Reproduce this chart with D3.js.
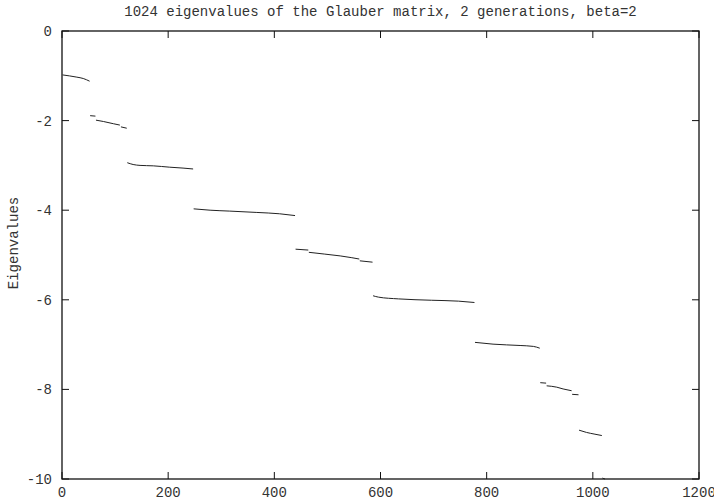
<!DOCTYPE html>
<html>
<head>
<meta charset="utf-8">
<script src="https://cdn.jsdelivr.net/npm/d3@7"></script>
<style>
  body { margin: 0; background: #fff; }
  svg text { font-family: "Liberation Mono", "DejaVu Sans Mono", monospace; fill: #333; }
</style>
</head>
<body>
<div id="chart"></div>
<script>
// plateaus of the sorted eigenvalue curve, each a list of [index, eigenvalue]
var level1 = [[1, -0.98], [28, -1.03], [40, -1.06], [52, -1.12]];
var level2a = [[53, -1.89], [63, -1.90]];
var level2b = [[64, -1.99], [78, -2.02], [97, -2.07], [109, -2.10]];
var level2c = [[111, -2.14], [122, -2.17]];
var level3 = [[123, -2.94], [134, -2.98], [147, -3.00], [172, -3.01], [203, -3.04], [228, -3.06], [247, -3.08]];
var level4 = [[248, -3.97], [279, -4.00], [316, -4.02], [367, -4.05], [410, -4.08], [439, -4.12]];
var level5a = [[440, -4.87], [464, -4.89]];
var level5b = [[465, -4.94], [495, -4.98], [524, -5.02], [546, -5.06], [560, -5.09]];
var level5c = [[561, -5.13], [585, -5.16]];
var level6 = [[586, -5.91], [596, -5.94], [634, -5.98], [696, -6.01], [747, -6.03], [777, -6.06]];
var level7 = [[778, -6.95], [812, -6.99], [863, -7.02], [888, -7.04], [900, -7.08]];
var level8a = [[901, -7.85], [912, -7.86]];
var level8b = [[913, -7.92], [932, -7.95], [944, -7.99], [960, -8.03]];
var level8c = [[961, -8.11], [973, -8.12]];
var level9 = [[974, -8.91], [988, -8.96], [1004, -9.00], [1017, -9.03]];
var level10 = [[1018, -9.98], [1023, -10.0]];

var plateaus = [level1, level2a, level2b, level2c, level3, level4, level5a, level5b, level5c,
                level6, level7, level8a, level8b, level8c, level9, level10];

var xTicks = [0, 200, 400, 600, 800, 1000, 1200];
var yTicks = [0, -2, -4, -6, -8, -10];

var title = "1024 eigenvalues of the Glauber matrix, 2 generations, beta=2";
var yLabel = "Eigenvalues";

var width = 714, height = 504;
var plotLeft = 62, plotRight = 699, plotTop = 31, plotBottom = 479;
var tickLen = 7;

var svg = d3.select("#chart").append("svg")
    .attr("width", width)
    .attr("height", height);

var x = d3.scaleLinear().domain([0, 1200]).range([plotLeft, plotRight]);
var y = d3.scaleLinear().domain([-10, 0]).range([plotBottom, plotTop]);

// title and axis label
svg.append("text")
    .attr("x", (plotLeft + plotRight) / 2)
    .attr("y", 16)
    .attr("text-anchor", "middle")
    .style("font-size", "14px")
    .text(title);

svg.append("text")
    .attr("transform", "translate(18,243) rotate(-90)")
    .attr("text-anchor", "middle")
    .style("font-size", "14px")
    .text(yLabel);

// tick marks pointing inwards on all four sides
var ticks = svg.append("g").attr("stroke", "#111").attr("stroke-width", 1);

xTicks.forEach(function(t) {
    ticks.append("line")
        .attr("x1", x(t)).attr("x2", x(t))
        .attr("y1", plotBottom).attr("y2", plotBottom - tickLen);
    ticks.append("line")
        .attr("x1", x(t)).attr("x2", x(t))
        .attr("y1", plotTop).attr("y2", plotTop + tickLen);
    svg.append("text")
        .attr("x", x(t))
        .attr("y", plotBottom + 18)
        .attr("text-anchor", "middle")
        .style("font-size", "14px")
        .text(t);
});

yTicks.forEach(function(t) {
    ticks.append("line")
        .attr("x1", plotLeft).attr("x2", plotLeft + tickLen)
        .attr("y1", y(t)).attr("y2", y(t));
    ticks.append("line")
        .attr("x1", plotRight).attr("x2", plotRight - tickLen)
        .attr("y1", y(t)).attr("y2", y(t));
    svg.append("text")
        .attr("x", plotLeft - 10)
        .attr("y", y(t))
        .attr("dy", "0.35em")
        .attr("text-anchor", "end")
        .style("font-size", "14px")
        .text(t);
});

// border
svg.append("rect")
    .attr("x", plotLeft)
    .attr("y", plotTop)
    .attr("width", plotRight - plotLeft)
    .attr("height", plotBottom - plotTop)
    .attr("fill", "none")
    .attr("stroke", "#111")
    .attr("stroke-width", 1.3);

// eigenvalue plateaus
var line = d3.line()
    .x(function(d) { return x(d[0]); })
    .y(function(d) { return y(d[1]); })
    .curve(d3.curveMonotoneX);

svg.append("g").selectAll("path")
    .data(plateaus)
    .enter().append("path")
    .attr("d", line)
    .attr("fill", "none")
    .attr("stroke", "#222")
    .attr("stroke-width", 1);
</script>
</body>
</html>
